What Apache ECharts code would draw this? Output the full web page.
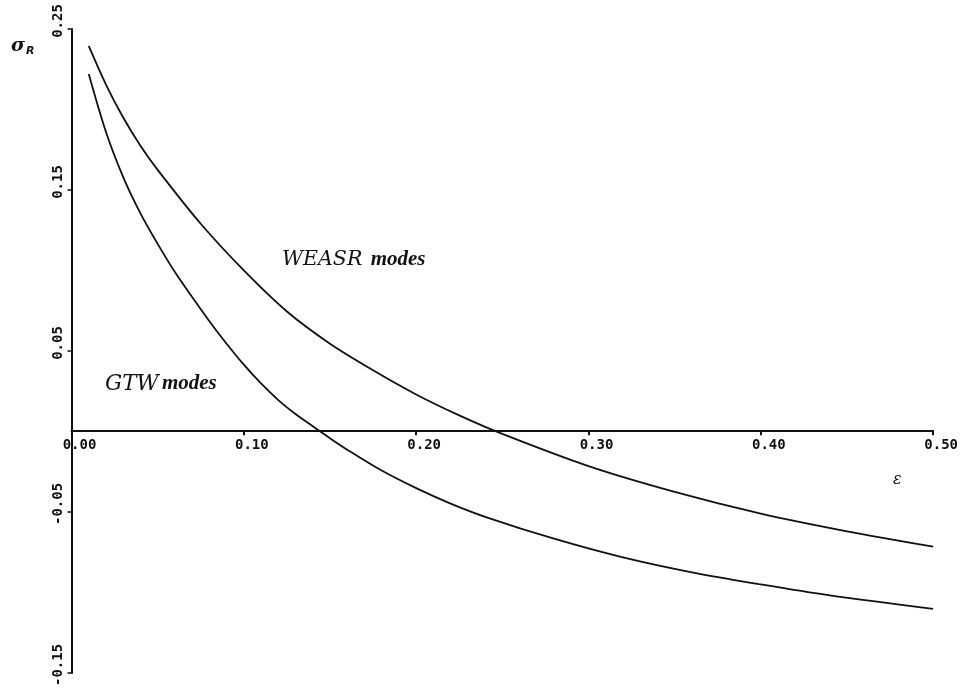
<!DOCTYPE html>
<html>
<head>
<meta charset="utf-8">
<script src="https://cdn.jsdelivr.net/npm/echarts@6/dist/echarts.min.js"></script>
<style>
html,body{margin:0;padding:0;background:#fff;}
#chart{width:961px;height:689px;}
</style>
</head>
<body>
<div id="chart"></div>
<script>
// ---- data ----
var epsWeasr   = [0.01, 0.02, 0.03, 0.04, 0.05, 0.075, 0.10, 0.125, 0.15, 0.175, 0.20, 0.225, 0.25, 0.30, 0.35, 0.40, 0.45, 0.50];
var sigmaWeasr = [0.2395, 0.2155, 0.195, 0.1775, 0.1625, 0.129, 0.100, 0.0745, 0.0545, 0.038, 0.023, 0.010, -0.0015, -0.0215, -0.0375, -0.051, -0.062, -0.0715];

var epsGtw   = [0.01, 0.02, 0.03, 0.04, 0.05, 0.06, 0.07, 0.08, 0.09, 0.10, 0.11, 0.12, 0.13, 0.14, 0.15, 0.16, 0.18, 0.20, 0.22, 0.24, 0.28, 0.32, 0.36, 0.40, 0.44, 0.50];
var sigmaGtw = [0.222, 0.186, 0.158, 0.1355, 0.1165, 0.0990, 0.0835, 0.0685, 0.0545, 0.0415, 0.0298, 0.0195, 0.0108, 0.0032, -0.0042, -0.0113, -0.0243, -0.0352, -0.0448, -0.053, -0.0666, -0.0782, -0.0875, -0.095, -0.1018, -0.1102];

var yTickValues = [-0.15, -0.05, 0.05, 0.15, 0.25];
var xTickLabels = ['0.00', '0.10', '0.20', '0.30', '0.40', '0.50'];

function zip(xs, ys) { return xs.map(function (x, i) { return [x, ys[i]]; }); }

var ink = '#111';
var gridTop = 29, gridBottom = 13, H = 689;
var plotH = H - gridTop - gridBottom;
var yMin = -0.15, yMax = 0.25;
var zeroOffset = -plotH * (0 - yMin) / (yMax - yMin);

var chart = echarts.init(document.getElementById('chart'), null, {renderer: 'canvas'});
chart.setOption({
  backgroundColor: '#fff',
  animation: false,
  grid: {left: 71.5, right: 27, top: gridTop, bottom: gridBottom, containLabel: false},
  xAxis: {
    type: 'value', min: 0, max: 0.5, interval: 0.1, position: 'bottom', offset: zeroOffset,
    axisLine: {onZero: false, lineStyle: {color: ink, width: 2}},
    axisTick: {show: true, length: 5, lineStyle: {color: ink, width: 2}},
    splitLine: {show: false},
    axisLabel: {
      margin: 8, color: ink, fontFamily: 'DejaVu Sans Mono', fontWeight: 'bold', fontSize: 14,
      padding: [0, 0, 0, 16],
      formatter: function (v) { return xTickLabels[Math.round(v * 10)]; }
    }
  },
  yAxis: {
    type: 'value', min: yMin, max: yMax,
    axisLine: {show: true, onZero: false, lineStyle: {color: ink, width: 2}},
    axisTick: {show: true, length: 4, customValues: yTickValues, lineStyle: {color: ink, width: 1.5}},
    splitLine: {show: false},
    axisLabel: {
      customValues: yTickValues,
      rotate: 90, margin: 6, color: ink, fontFamily: 'DejaVu Sans Mono', fontWeight: 'bold', fontSize: 14,
      padding: [0, 0, 0, 16],
      formatter: function (v) { return v.toFixed(2); }
    }
  },
  series: [
    {name: 'WEASR modes', type: 'line', data: zip(epsWeasr, sigmaWeasr), smooth: 0.3, showSymbol: false,
     lineStyle: {color: ink, width: 1.8}},
    {name: 'GTW modes', type: 'line', data: zip(epsGtw, sigmaGtw), smooth: 0.3, showSymbol: false,
     lineStyle: {color: ink, width: 1.8}}
  ],
  graphic: [
    {type: 'text', left: 11, top: 37, style: {
      text: '{s|σ}{r|R}', rich: {
        s: {fontFamily: 'DejaVu Serif', fontStyle: 'italic', fontWeight: 'bold', fontSize: 19, fill: ink},
        r: {fontFamily: 'DejaVu Sans', fontStyle: 'italic', fontWeight: 'bold', fontSize: 11, fill: ink, padding: [10, 0, 0, 1]}
      }}},
    {type: 'text', left: 282, top: 249, style: {
      text: '{a|WEASR} {b|modes}', rich: {
        a: {fontFamily: 'DejaVu Serif', fontStyle: 'italic', fontSize: 20.5, fill: ink},
        b: {fontFamily: 'Liberation Serif', fontStyle: 'italic', fontWeight: 'bold', fontSize: 21, fill: ink, padding: [0, 0, 0, 5]}
      }}},
    {type: 'text', left: 105, top: 373, style: {
      text: '{a|GTW} {b|modes}', rich: {
        a: {fontFamily: 'DejaVu Serif', fontStyle: 'italic', fontSize: 21.5, fill: ink},
        b: {fontFamily: 'Liberation Serif', fontStyle: 'italic', fontWeight: 'bold', fontSize: 21, fill: ink}
      }}},
    {type: 'text', left: 893, top: 472, style: {
      text: 'ε', fontFamily: 'DejaVu Serif', fontStyle: 'italic', fontSize: 16, fill: ink}}
  ]
});
</script>
</body>
</html>
